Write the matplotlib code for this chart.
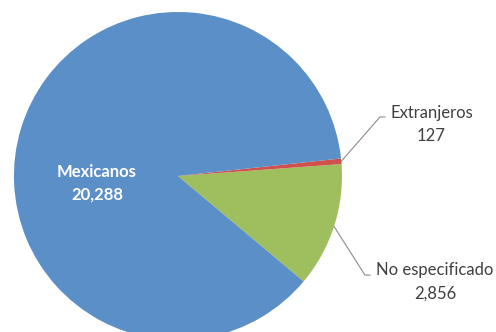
import matplotlib.pyplot as plt
import numpy as np

categories = ["No especificado", "Extranjeros", "Mexicanos"]
values = [2856, 127, 20288]
value_labels = ["2,856", "127", "20,288"]
colors = ["#9fbf5f", "#d0504c", "#5b8fc8"]

fig = plt.figure(figsize=(4.96, 3.32), dpi=100)
ax = fig.add_axes([0, 0, 1, 1])
wedges, _ = ax.pie(values, colors=colors, startangle=-40, counterclock=True,
                   radius=1.0, center=(0, 0), wedgeprops=dict(linewidth=0))
ax.set_xlim(-1.085, 1.939)
ax.set_ylim(-0.951, 1.073)
ax.set_aspect("auto")
ax.axis("off")

font = ["Lato", "DejaVu Sans"]
txt_color = "#404040"

# Mexicanos label inside the pie
ax.text(-0.494, -0.045, f"{categories[2]}\n{value_labels[2]}", ha="center", va="center",
        color="white", fontsize=12, fontweight="bold", family=font, linespacing=1.55)

# outside labels with leader lines
specs = {1: ((1.232, 0.360), (1.262, 0.360), (1.545, 0.315)),
         0: ((1.140, -0.604), (1.171, -0.604), (1.568, -0.645))}
for i, (elbow, end, txt) in specs.items():
    w = wedges[i]
    mid = np.deg2rad((w.theta1 + w.theta2) / 2)
    start = (np.cos(mid), np.sin(mid))
    ax.plot([start[0], elbow[0], end[0]], [start[1], elbow[1], end[1]],
            color="#8c8c8c", linewidth=0.8)
    ax.text(txt[0], txt[1], f"{categories[i]}\n{value_labels[i]}", ha="center", va="center",
            color=txt_color, fontsize=12, family=font, linespacing=1.55)

fig.savefig("out.png", dpi=100)
